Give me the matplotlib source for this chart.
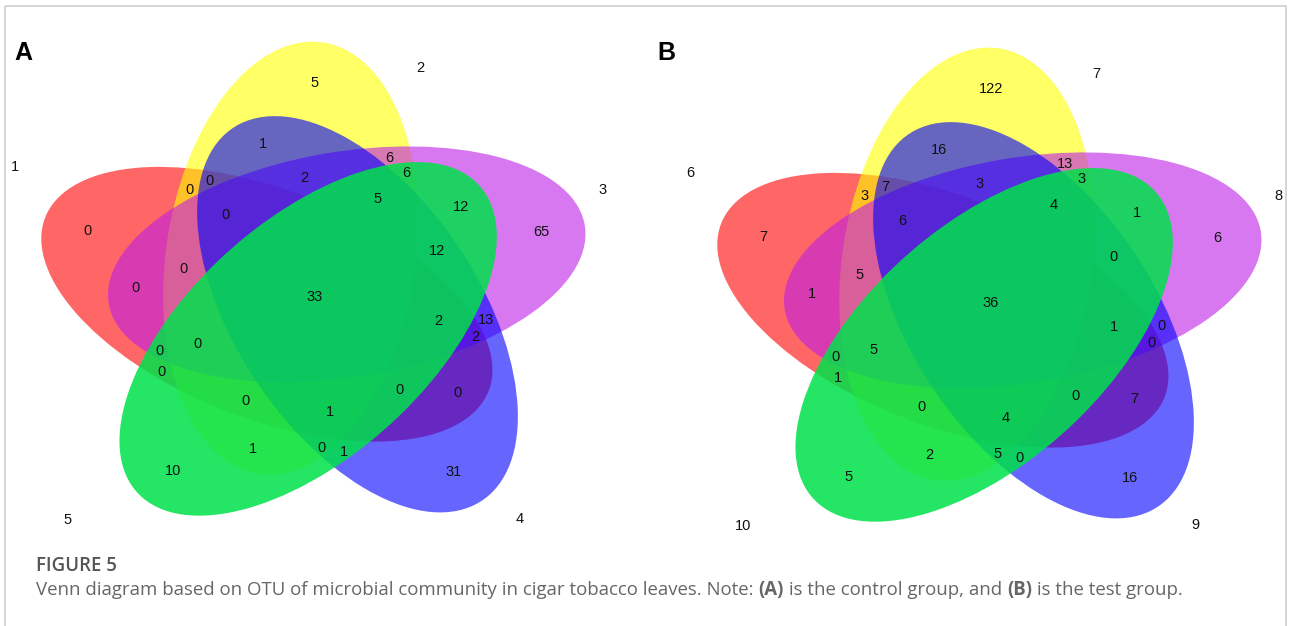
import numpy as np
import matplotlib
matplotlib.use("Agg")
import matplotlib.pyplot as plt
from matplotlib.patches import Ellipse, Rectangle
from matplotlib.transforms import Affine2D

# region membership (set numbers) and OTU counts
regions = ['1', '2', '3', '4', '5',
           '24', '35', '14', '25', '13',
           '12', '23', '34', '45', '15',
           '124', '235', '134', '245', '135',
           '234', '345', '145', '125', '123',
           '1234', '2345', '1345', '1245', '1235',
           '12345']
counts_a = [0, 5, 65, 31, 10,
            1, 12, 0, 1, 0,
            0, 6, 13, 1, 0,
            0, 6, 2, 0, 0,
            2, 12, 0, 0, 0,
            0, 5, 2, 1, 0,
            33]
counts_b = [7, 122, 6, 16, 5,
            16, 1, 7, 2, 1,
            3, 13, 0, 0, 1,
            7, 3, 0, 5, 0,
            3, 0, 0, 0, 5,
            6, 4, 1, 4, 5,
            36]
names_a = ['1', '2', '3', '4', '5']
names_b = ['6', '7', '8', '9', '10']

# ellipse layout (pixels)
colors = [(1, 0, 0), (1, 1, 0), (190/255, 30/255, 230/255), (0, 0, 1), (0, 225/255, 75/255)]
alphas = [0.6, 0.6, 0.6, 0.6, 0.86]
k = 0.9            # vertical squash of the picture
d, a, b = 48, 242, 125
theta1, delta = 191, -36
lobe_t = 0.82      # set-only count sits along the long axis
name_pos = [(154, 333), (67.5, 277), (22.6, 312), (-50, 320), (225, 349)]


def ellipse_params(i):
    th = np.radians(theta1 - 72 * i)
    ph = th + np.radians(delta)
    return d * np.cos(th), d * np.sin(th), ph


def label_points(cx, cy):
    xs = np.arange(cx - 300, cx + 300, 1.0)
    ys = np.arange(cy - 270, cy + 240, 1.0)
    X, Y = np.meshgrid(xs, ys)
    U = X - cx
    V = (cy - Y) / k
    codes = np.zeros(X.shape, dtype=int)
    dist = np.full(X.shape, np.inf)
    for i in range(5):
        ex, ey, ph = ellipse_params(i)
        du, dv = U - ex, V - ey
        p = du * np.cos(ph) + dv * np.sin(ph)
        q = -du * np.sin(ph) + dv * np.cos(ph)
        g = np.sqrt((p / a) ** 2 + (q / b) ** 2) + 1e-9
        codes |= (g < 1).astype(int) << i
        gp, gq = p / a ** 2 / g, q / b ** 2 / g
        gu = gp * np.cos(ph) - gq * np.sin(ph)
        gv = gp * np.sin(ph) + gq * np.cos(ph)
        dist = np.minimum(dist, np.abs(g - 1) / np.hypot(gu, gv / k))
    pts = []
    for r in regions:
        if len(r) == 1:
            ex, ey, ph = ellipse_params(int(r) - 1)
            u = ex + lobe_t * a * np.cos(ph)
            v = ey + lobe_t * a * np.sin(ph)
            pts.append((cx + u, cy - k * v))
            continue
        code = sum(1 << (int(c) - 1) for c in r)
        dd = np.where(codes == code, dist, -1)
        j = np.unravel_index(np.argmax(dd), dd.shape)
        pts.append((X[j], Y[j]))
    return pts


def venn(ax, cx, cy, counts, names, letter, letter_x):
    T = Affine2D().scale(1, -k).translate(cx, cy) + ax.transData
    for i in range(5):
        ex, ey, ph = ellipse_params(i)
        ax.add_patch(Ellipse((ex, ey), 2 * a, 2 * b, angle=np.degrees(ph),
                             facecolor=colors[i], alpha=alphas[i], lw=0, transform=T))
    for (x, y), n in zip(label_points(cx, cy), counts):
        ax.text(x, y + 2, str(n), ha='center', va='center', fontsize=10.5,
                family='Liberation Sans', color='#111111')
    for (ang, r), nm in zip(name_pos, names):
        x = cx + r * np.cos(np.radians(ang))
        y = cy - k * r * np.sin(np.radians(ang))
        ax.text(x, y + 2, nm, ha='center', va='center', fontsize=10.5,
                family='Liberation Sans', color='#111111')
    ax.text(letter_x, 53, letter, ha='left', va='center', fontsize=18,
            family='Liberation Sans', weight='bold')


fig = plt.figure(figsize=(12.9, 6.26), dpi=100)
ax = fig.add_axes([0, 0, 1, 1])
ax.set_xlim(0, 1290)
ax.set_ylim(626, 0)
ax.axis('off')

ax.add_patch(Rectangle((4.5, 5.5), 1281, 700, fill=False, edgecolor='#cfcfcf', lw=1.2))

venn(ax, 314, 296, counts_a, names_a, 'A', 14)
venn(ax, 990, 302, counts_b, names_b, 'B', 657)

ax.text(36, 566, 'FIGURE 5', ha='left', va='center', fontsize=13.4,
        family='Open Sans', weight='semibold', color='#555555')

parts = [("Venn diagram based on OTU of microbial community in cigar tobacco leaves. Note: ", 'normal'),
         ("(A)", 'bold'), (" is the control group, and ", 'normal'),
         ("(B)", 'bold'), (" is the test group.", 'normal')]
renderer = fig.canvas.get_renderer()
x = 36
for s, w in parts:
    t = ax.text(x, 590, s, ha='left', va='center', fontsize=13.4,
                family='Open Sans', weight=w, color='#666666')
    bb = t.get_window_extent(renderer)
    x = bb.x1

fig.savefig('out.png', dpi=100)
